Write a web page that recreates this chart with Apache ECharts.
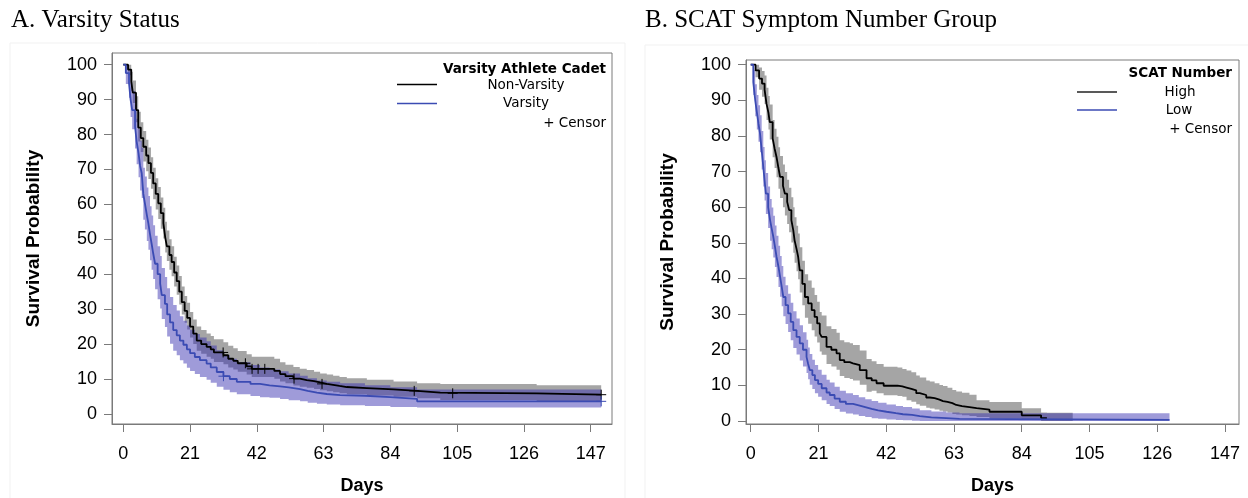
<!DOCTYPE html>
<html>
<head>
<meta charset="utf-8">
<script src="https://cdn.jsdelivr.net/npm/echarts@6/dist/echarts.min.js"></script>
<style>
  html, body { margin: 0; padding: 0; background: #fff; }
  #chart { width: 1248px; height: 498px; }
</style>
</head>
<body>
<div id="chart"></div>
<script>
// ---- Axis ticks ----
const dayTicks = [0, 21, 42, 63, 84, 105, 126, 147];
const survTicks = [0, 10, 20, 30, 40, 50, 60, 70, 80, 90, 100];

// ---- Panel A: Varsity status (Kaplan-Meier, % surviving) ----
const aNonDays = [0, 1.5, 2.5, 3, 4, 4.7, 5.5, 6.3, 7.2, 7.9, 8.7, 9.4, 10.2, 11, 11.8, 12.6, 13.2, 13.7, 14.5, 15.2, 16, 16.8, 17.6, 18.4, 19.3, 20.1, 21, 22, 23.1, 24.5, 26.2, 27.5, 28.5, 31.5, 33, 34.6, 36, 38.8, 40.4, 47.5, 49.3, 51, 53.5, 55.5, 57.7, 60, 61.9, 64, 66, 68, 70.3, 76.6, 85, 92.4, 99.7, 130, 150.3];
const aNonSurv = [100, 98.6, 95.2, 92, 87, 82, 79, 76.5, 74, 71.8, 69, 66, 63, 60.3, 57.5, 54.6, 50.5, 48, 45.5, 43.5, 40.5, 38, 35, 32, 29.5, 27.5, 25, 23, 21, 20, 19.2, 18.5, 17.6, 16.8, 15.8, 15.2, 14.5, 13.6, 12.9, 12.3, 11.4, 10.8, 10.1, 9.7, 9.4, 9, 8.6, 8.3, 8, 7.7, 7.4, 7, 6.6, 6.1, 5.9, 5.5, 5.5];
const aNonUpper = [100, 100, 98, 95.5, 91, 86.5, 83.5, 81, 78.5, 76.3, 73.5, 70.5, 67.5, 65, 62, 59, 55, 52.5, 50, 48, 45, 42.5, 39.5, 36.5, 33.8, 31.8, 29.2, 27, 25, 24, 23, 22.3, 21.4, 20.5, 19.5, 18.8, 18, 17.1, 16.4, 15.8, 14.8, 14.1, 13.4, 12.9, 12.6, 12.1, 11.6, 11.3, 10.9, 10.6, 10.2, 9.8, 9.3, 8.8, 8.6, 8.2, 8.2];
const aNonLower = [100, 97, 92.5, 89, 83.5, 78, 75, 72.3, 69.5, 67.3, 64.5, 61.5, 58.5, 55.8, 53, 50.2, 46.2, 43.8, 41.3, 39.4, 36.5, 34.1, 31.3, 28.5, 26.1, 24.2, 21.9, 20, 18.1, 17.2, 16.4, 15.8, 14.9, 14.2, 13.3, 12.7, 12.1, 11.3, 10.6, 10.1, 9.3, 8.8, 8.1, 7.8, 7.5, 7.1, 6.8, 6.5, 6.2, 5.9, 5.6, 5.3, 4.9, 4.5, 4.0, 3.5, 3.5];
const aNonCensor = [31.4, 38.4, 40.5, 42.4, 44.5, 53.7, 62.5, 91.5, 103.6, 150.3];

const aVarDays = [0, 0.8, 1.8, 2.3, 2.8, 3.7, 4.2, 4.8, 5.3, 5.8, 6.3, 6.8, 7.4, 7.9, 8.4, 8.9, 9.4, 10, 10.8, 11.6, 12.1, 13.1, 13.8, 14.7, 15.7, 16.8, 17.8, 18.9, 20, 21, 22.5, 24.1, 26.2, 27.5, 29.4, 31.5, 33.5, 35.7, 40, 43, 46, 49.3, 52, 55.6, 58, 60.9, 64, 68.2, 76, 84, 92.4, 150.3];
const aVarSurv = [100, 97.6, 94.7, 90, 87, 82.3, 78, 74.6, 71, 68.9, 63, 60.3, 57, 54.5, 51.5, 48.8, 46, 43, 40, 37.3, 34, 31.5, 28.5, 26.2, 24, 22.5, 21, 19.8, 18.5, 17.4, 16.3, 15.4, 14.4, 13.3, 12, 10.8, 10, 9.2, 8.6, 8.2, 7.9, 7.6, 7.1, 6.6, 6.1, 5.7, 5.4, 5.2, 4.8, 4.3, 3.6, 3.6];
const aVarUpper = [100, 100, 98.5, 95, 92.5, 88.5, 84.5, 81.5, 78.2, 76.2, 70.5, 68, 64.8, 62.4, 59.5, 56.8, 54, 51, 48, 45.2, 41.8, 39.2, 36, 33.5, 31.2, 29.6, 28, 26.7, 25.3, 24.1, 22.9, 21.9, 20.8, 19.6, 18.2, 16.8, 15.8, 14.8, 14, 13.3, 12.7, 12.2, 11.6, 10.9, 10.2, 9.6, 9.2, 8.8, 8.2, 7.6, 7, 7];
const aVarLower = [100, 94.5, 90.5, 85, 81.5, 76, 71.5, 67.8, 64, 61.8, 55.6, 52.8, 49.5, 47, 44, 41.3, 38.6, 35.7, 32.8, 30.2, 27.2, 24.9, 22.2, 20.1, 18.1, 16.8, 15.4, 14.4, 13.2, 12.3, 11.4, 10.6, 9.8, 8.9, 7.8, 6.9, 6.2, 5.6, 5.1, 4.8, 4.6, 4.3, 3.9, 3.6, 3.2, 2.9, 2.7, 2.5, 2.3, 2, 1.8, 1.8];
const aVarCensor = [31.5, 150.3];

// ---- Panel B: SCAT symptom number group ----
const bHighDays = [0, 1.5, 2.6, 3.5, 4.3, 4.9, 5.5, 5.9, 6.8, 7.4, 8, 8.6, 9.1, 10, 10.6, 11.3, 11.9, 12.6, 13.2, 13.6, 14.2, 14.7, 15.2, 16, 16.8, 17.8, 18.9, 19.8, 20.6, 21.4, 22, 23.5, 25, 26.6, 27.6, 29, 30.7, 31.7, 33.8, 35.9, 37.5, 39, 41.2, 45.5, 47, 48.3, 49.8, 51.3, 52.4, 54.4, 55.5, 57, 58.5, 59.6, 61, 62.5, 63.7, 65.5, 67.8, 70, 74, 84, 90, 91.8];
const bHighSurv = [100, 98.4, 96.1, 94.7, 93, 89, 86.5, 83.9, 79.3, 76.5, 74.1, 71, 68.5, 66, 63.8, 61.5, 59.2, 56.4, 53.5, 50.7, 48.3, 46.1, 42.3, 38.5, 34.8, 33, 31.1, 29.2, 27.4, 24.6, 23.6, 20.8, 20, 19, 17.1, 16.5, 16.2, 15.7, 14.3, 12, 11.4, 10.6, 9.9, 9.7, 9.4, 9, 8.6, 7.8, 7.3, 6.6, 6.4, 6, 5.6, 5.4, 5, 4.5, 4.2, 3.9, 3.6, 3.2, 2.6, 1.6, 0.8, 0.8];
const bHighBandDays = [0, 1.5, 2.6, 3.5, 4.3, 4.9, 5.5, 5.9, 6.8, 7.4, 8, 8.6, 9.1, 10, 10.6, 11.3, 11.9, 12.6, 13.2, 13.6, 14.2, 14.7, 15.2, 16, 16.8, 17.8, 18.9, 19.8, 20.6, 21.4, 22, 23.5, 25, 26.6, 27.6, 29, 30.7, 31.7, 33.8, 35.9, 37.5, 39, 41.2, 45.5, 47, 48.3, 49.8, 51.3, 52.4, 54.4, 55.5, 57, 58.5, 59.6, 61, 62.5, 63.7, 65.5, 67.8, 70, 74, 84, 90, 91.8, 99.8];
const bHighUpper = [100, 100, 99.2, 98.2, 97, 93.5, 91.2, 88.8, 84.5, 82, 79.8, 76.8, 74.4, 72, 69.9, 67.7, 65.5, 62.8, 60, 57.2, 54.8, 52.6, 48.8, 45, 41.2, 39.4, 37.4, 35.4, 33.5, 30.6, 29.6, 26.6, 25.8, 24.8, 22.7, 22.1, 21.8, 21.3, 19.8, 17.4, 16.8, 16, 15.2, 15, 14.6, 14.2, 13.7, 12.8, 12.2, 11.4, 11.1, 10.6, 10.1, 9.8, 9.3, 8.7, 8.3, 7.9, 7.4, 5.8, 5.3, 3.6, 2.4, 2.3, 2.3];
const bHighLower = [100, 96.5, 93, 91, 89, 84.5, 81.8, 79, 74, 71, 68.4, 65.2, 62.6, 60, 57.7, 55.3, 53, 50.1, 47.2, 44.4, 42, 39.8, 36.1, 32.5, 29, 27.3, 25.5, 23.7, 22, 19.5, 18.6, 16, 15.3, 14.4, 12.6, 12.1, 11.8, 11.4, 10.2, 8.2, 8.5, 7.8, 7.2, 7.0, 6.8, 5.8, 5.4, 4.7, 4.3, 3.7, 3.5, 3.2, 2.9, 2.7, 2.4, 2, 1.8, 1.6, 1.4, 1.1, 0.7, 0.3, 0, 0, 0];

const bLowDays = [0, 0.8, 1.4, 1.9, 2.4, 2.9, 3.4, 3.9, 4.3, 4.7, 5.4, 6, 6.5, 7, 7.5, 8, 8.6, 9.1, 9.6, 10.1, 10.8, 11.6, 12.4, 13.2, 14.2, 15.2, 16.2, 17.3, 17.8, 18.3, 19.1, 19.9, 20.9, 22, 23.5, 24.5, 26, 27.6, 29.5, 31.7, 33.5, 35.5, 37.5, 39.5, 42.1, 45, 47.2, 50, 52.4, 56, 60.6, 64.7, 129.8];
const bLowSurv = [100, 95.1, 90, 86.7, 83.5, 80.6, 76, 71.3, 67.5, 63.8, 60, 56.4, 54, 51.7, 49, 46.1, 43.3, 40.5, 37.7, 34.8, 32.5, 30.2, 27.8, 25.5, 23.6, 21.8, 20, 18, 16, 14.3, 12.9, 11.5, 10.4, 9.2, 8, 7.3, 6.3, 5.4, 4.8, 4.4, 3.9, 3.4, 3, 2.6, 2.2, 1.9, 1.7, 1.4, 1, 0.8, 0.6, 0.3, 0.3];
const bLowUpper = [100, 98.5, 94.5, 91.5, 88.6, 85.8, 81.4, 76.9, 73.2, 69.6, 65.8, 62.3, 59.9, 57.6, 54.9, 52, 49.2, 46.3, 43.5, 40.5, 38.1, 35.7, 33.2, 30.8, 28.8, 26.9, 24.9, 22.8, 20.6, 18.8, 17.2, 15.7, 14.4, 13, 11.6, 10.8, 9.6, 8.5, 7.8, 7.3, 6.7, 6.1, 5.6, 5.1, 4.6, 4.2, 3.9, 3.5, 3, 2.7, 2.4, 2.2, 2.2];
const bLowLower = [100, 91.5, 85.5, 81.8, 78.4, 75.4, 70.6, 65.8, 61.9, 58.1, 54.2, 50.6, 48.2, 45.9, 43.2, 40.4, 37.6, 34.9, 32.2, 29.4, 27.2, 25, 22.7, 20.5, 18.7, 17, 15.3, 13.5, 11.7, 10.2, 9, 7.8, 6.8, 5.8, 4.8, 4.2, 3.4, 2.6, 2.1, 1.8, 1.4, 1.1, 0.8, 0.6, 0.4, 0.3, 0.2, 0.1, 0, 0, 0, 0, 0];

// ---- Styling ----
const BLACK = '#000000';
const BLUE = '#3b4bb3';
const GREY_BAND = '#a5a5a5';
const BLUE_BAND = 'rgba(55,45,175,0.48)';
const AXIS_GREY = '#7a7a7a';
const SANS = '"Liberation Sans", Arial, sans-serif';
const LEGEND_SANS = '"DejaVu Sans", Verdana, sans-serif';
const SERIF = '"Liberation Serif", "Times New Roman", serif';

// survival value in force at day t (step function)
function survAt(days, surv, t) {
  let v = surv[0];
  for (let i = 0; i < days.length; i++) { if (days[i] <= t) v = surv[i]; }
  return v;
}

function zip(days, vals) { return days.map((d, i) => [d, vals[i]]); }

// confidence band drawn as one stepped polygon
function bandSeries(idx, days, lower, upper, color) {
  return {
    type: 'custom', xAxisIndex: idx, yAxisIndex: idx, silent: true, z: 1,
    data: [[days[0], upper[0]]],
    renderItem: function (params, api) {
      const pts = [];
      for (let i = 0; i < days.length; i++) {
        if (i) pts.push(api.coord([days[i], upper[i - 1]]));
        pts.push(api.coord([days[i], upper[i]]));
      }
      for (let i = days.length - 1; i >= 0; i--) {
        pts.push(api.coord([days[i], lower[i]]));
        if (i) pts.push(api.coord([days[i], lower[i - 1]]));
      }
      return { type: 'polygon', shape: { points: pts }, style: { fill: color } };
    }
  };
}

function lineSeries(idx, name, days, surv, color) {
  return {
    type: 'line', name: name, xAxisIndex: idx, yAxisIndex: idx, step: 'end',
    symbol: 'none', z: 3, silent: true,
    lineStyle: { color: color, width: 1.8 },
    data: zip(days, surv)
  };
}

function censorSeries(idx, censorDays, days, surv, color) {
  return {
    type: 'custom', xAxisIndex: idx, yAxisIndex: idx, silent: true, z: 4,
    data: censorDays.map(d => [d, survAt(days, surv, d)]),
    renderItem: function (params, api) {
      const p = api.coord([api.value(0), api.value(1)]);
      return {
        type: 'group',
        children: [
          { type: 'line', shape: { x1: p[0], y1: p[1] - 5, x2: p[0], y2: p[1] + 5 }, style: { stroke: color, lineWidth: 1 } },
          { type: 'line', shape: { x1: p[0] - 5, y1: p[1], x2: p[0] + 5, y2: p[1] }, style: { stroke: color, lineWidth: 1 } }
        ]
      };
    }
  };
}

function xAxisFor(idx, min, max) {
  return {
    type: 'value', gridIndex: idx, min: min, max: max,
    name: 'Days', nameLocation: 'middle', nameGap: 53,
    nameTextStyle: { fontFamily: SANS, fontWeight: 'bold', fontSize: 18, color: '#000' },
    splitLine: { show: false },
    axisLine: { show: true, onZero: false, lineStyle: { color: AXIS_GREY, width: 1 } },
    axisTick: { show: true, length: 8, customValues: dayTicks, lineStyle: { color: AXIS_GREY } },
    axisLabel: { customValues: dayTicks, fontFamily: SANS, fontSize: 18, color: '#000', margin: 21 }
  };
}

function yAxisFor(idx, min, max) {
  return {
    type: 'value', gridIndex: idx, min: min, max: max,
    name: 'Survival Probability', nameLocation: 'middle', nameGap: 69,
    nameTextStyle: { fontFamily: SANS, fontWeight: 'bold', fontSize: 19, color: '#000' },
    splitLine: { show: false },
    axisLine: { show: true, onZero: false, lineStyle: { color: AXIS_GREY, width: 1 } },
    axisTick: { show: true, length: 8, customValues: survTicks, lineStyle: { color: AXIS_GREY } },
    axisLabel: { customValues: survTicks, fontFamily: SANS, fontSize: 18, color: '#000', margin: 15 }
  };
}

function legendText(x, y, text, align, bold) {
  return {
    type: 'text', x: x, y: y, silent: true,
    style: {
      text: text, fill: '#000', textAlign: align, textVerticalAlign: 'middle',
      font: (bold ? 'bold ' : '') + '13.5px ' + LEGEND_SANS
    }
  };
}
function legendLine(x1, x2, y, color) {
  return { type: 'line', silent: true, shape: { x1: x1, y1: y, x2: x2, y2: y }, style: { stroke: color, lineWidth: 1.6 } };
}

const chart = echarts.init(document.getElementById('chart'), null, { renderer: 'canvas' });

chart.setOption({
  animation: false,
  backgroundColor: '#ffffff',
  title: [
    { text: 'A. Varsity Status', left: 11, top: 8, padding: 0,
      textStyle: { fontFamily: SERIF, fontWeight: 'normal', fontSize: 25, color: '#000' } },
    { text: 'B. SCAT Symptom Number Group', left: 645, top: 8, padding: 0,
      textStyle: { fontFamily: SERIF, fontWeight: 'normal', fontSize: 25, color: '#000' } }
  ],
  grid: [
    { left: 112, top: 53, width: 500, height: 371, show: true, borderColor: AXIS_GREY, borderWidth: 1,
      backgroundColor: 'transparent', containLabel: false, outerBoundsMode: 'none' },
    { left: 746, top: 60, width: 493, height: 364, show: true, borderColor: AXIS_GREY, borderWidth: 1,
      backgroundColor: 'transparent', containLabel: false, outerBoundsMode: 'none' }
  ],
  xAxis: [xAxisFor(0, -3.55, 153.7), xAxisFor(1, -1.46, 151.34)],
  yAxis: [yAxisFor(0, -2.89, 103.35), yAxisFor(1, -0.84, 101.32)],
  series: [
    bandSeries(0, aNonDays, aNonLower, aNonUpper, GREY_BAND),
    bandSeries(0, aVarDays, aVarLower, aVarUpper, BLUE_BAND),
    lineSeries(0, 'Non-Varsity', aNonDays, aNonSurv, BLACK),
    lineSeries(0, 'Varsity', aVarDays, aVarSurv, BLUE),
    censorSeries(0, aNonCensor, aNonDays, aNonSurv, BLACK),
    censorSeries(0, aVarCensor, aVarDays, aVarSurv, BLUE),

    bandSeries(1, bHighBandDays, bHighLower, bHighUpper, GREY_BAND),
    bandSeries(1, bLowDays, bLowLower, bLowUpper, BLUE_BAND),
    lineSeries(1, 'High', bHighDays, bHighSurv, BLACK),
    lineSeries(1, 'Low', bLowDays, bLowSurv, BLUE)
  ],
  graphic: [
    { type: 'rect', silent: true, shape: { x: 10, y: 43, width: 615, height: 470 }, style: { fill: 'none', stroke: '#f1f1f1', lineWidth: 1 } },
    { type: 'rect', silent: true, shape: { x: 645, y: 45, width: 620, height: 470 }, style: { fill: 'none', stroke: '#f1f1f1', lineWidth: 1 } },

    legendText(606, 69, 'Varsity Athlete Cadet', 'right', true),
    legendLine(397, 437, 84.5, BLACK),
    legendText(526, 85, 'Non-Varsity', 'center', false),
    legendLine(397, 437, 103.5, BLUE),
    legendText(526, 103.5, 'Varsity', 'center', false),
    legendText(606, 123, '+ Censor', 'right', false),

    legendText(1232, 73, 'SCAT Number', 'right', true),
    legendLine(1077, 1117, 92, '#222222'),
    legendText(1180, 92, 'High', 'center', false),
    legendLine(1077, 1117, 110, BLUE),
    legendText(1179, 110, 'Low', 'center', false),
    legendText(1232, 129.5, '+ Censor', 'right', false)
  ]
});
</script>
</body>
</html>
